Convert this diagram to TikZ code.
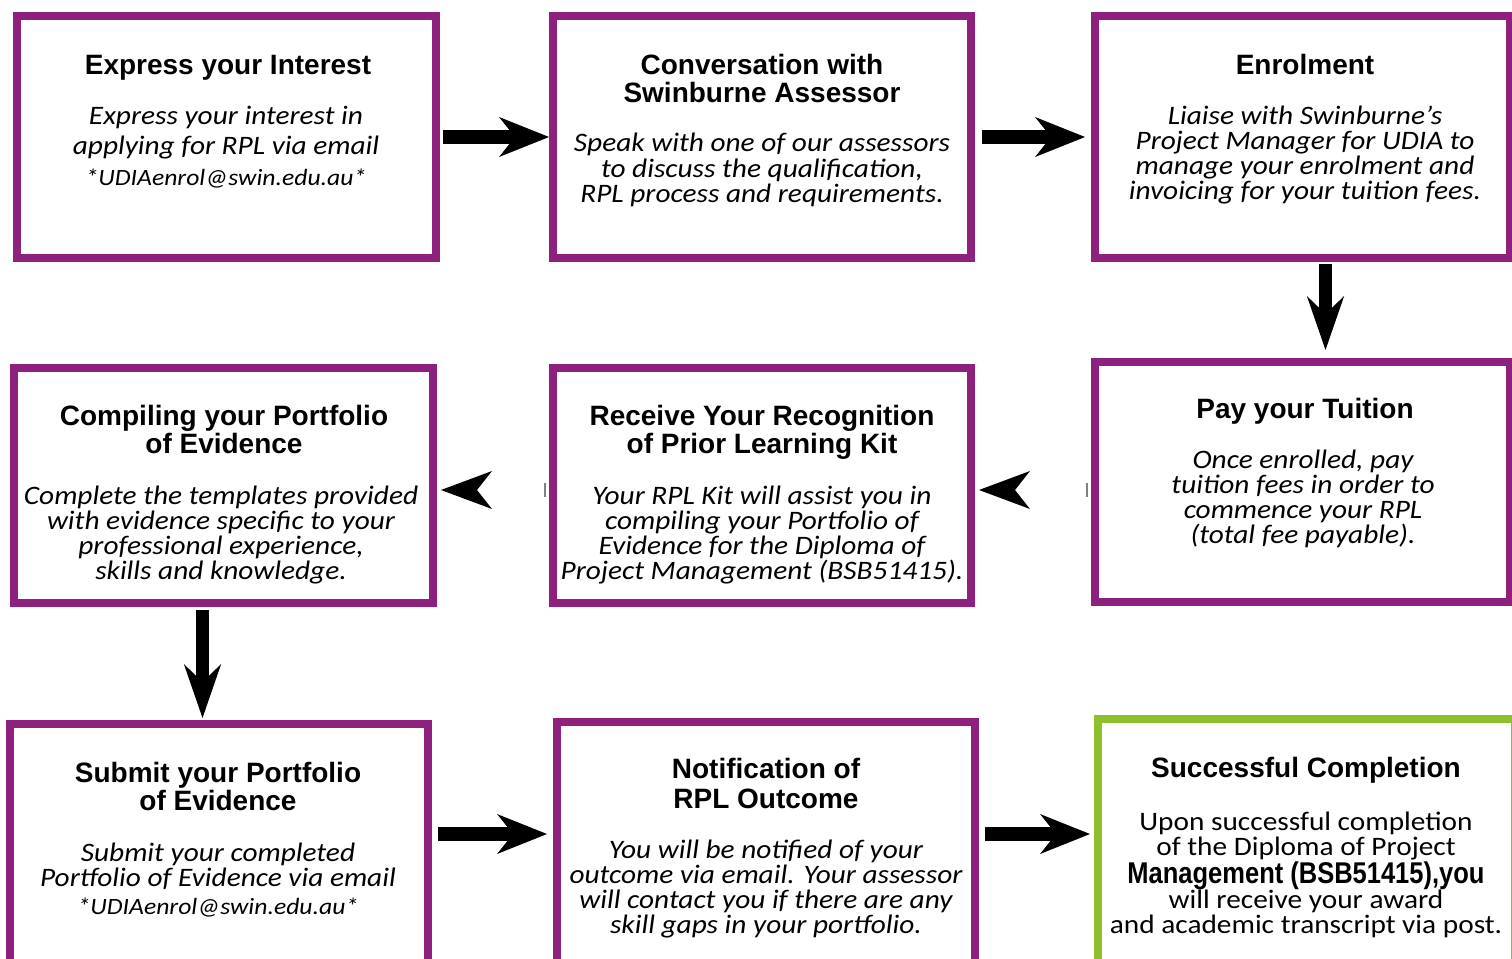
\documentclass[tikz,border=0pt]{standalone}
\usepackage{fontspec}
\setmainfont{Carlito}
\newfontfamily\bodyfont{Carlito}[FakeStretch=1.1]
\newfontfamily\titlefont{Liberation Sans}
\usetikzlibrary{arrows.meta}
\definecolor{boxpurple}{RGB}{142,32,126}
\definecolor{boxgreen}{RGB}{141,192,42}
\begin{document}
\begin{tikzpicture}[x=0.75pt,y=-0.75pt,
  stepbox/.style={draw=boxpurple,line width=6pt,inner sep=0pt},
  donebox/.style={draw=boxgreen,line width=6pt,inner sep=0pt},
  boxdim/.style 2 args={minimum width=#1*0.75pt,minimum height=#2*0.75pt},
  ttl/.style={font=\titlefont\bfseries\fontsize{21}{21}\selectfont,align=center,inner sep=0pt},
  bdy/.style={font=\bodyfont\itshape\fontsize{20}{18.9}\selectfont,align=center,inner sep=0pt},
  rarrow/.style={line width=10.5pt,-{Stealth[length=37.5pt,width=30pt,inset=12pt,line width=0pt]}},
  darrow/.style={line width=9.75pt,-{Stealth[length=40.5pt,width=28pt,inset=13.5pt,line width=0pt]}},
  larrowhead/.style={fill=black},
  tick/.style={draw=gray,line width=1pt}
]
\useasboundingbox (0,0) rectangle (1512,959);
\fill[white] (0,0) rectangle (1512,959);

% boxes
\node[stepbox,boxdim={419}{242}] (b1) at (226.5,137) {};
\node[stepbox,boxdim={418}{242}] (b2) at (762,137) {};
\node[stepbox,boxdim={415}{242}] (b3) at (1302.5,137) {};
\node[stepbox,boxdim={419}{235}] (b4) at (223.5,485.5) {};
\node[stepbox,boxdim={418}{235}] (b5) at (762,485.5) {};
\node[stepbox,boxdim={415}{240}] (b6) at (1302.5,482) {};
\node[stepbox,boxdim={418}{246}] (b7) at (219,847) {};
\node[stepbox,boxdim={418}{248}] (b8) at (766,846) {};
\node[donebox,boxdim={417}{251}] (b9) at (1306.5,844.5) {};

% texts
\node[ttl] (t1) at (228,68) {Express your Interest};
\node[bdy,font=\bodyfont\itshape\fontsize{20}{23}\selectfont] (d1) at (226,147) {Express your interest in\\ applying for RPL via email\\ {\fontsize{17.5}{17}\selectfont *UDIAenrol@swin.edu.au*}};

\node[ttl] (t2) at (762,78) {Conversation with\\ Swinburne Assessor};
\node[bdy] (d2) at (762,170) {Speak with one of our assessors\\ to discuss the qualification,\\ RPL process and requirements.};

\node[ttl] (t3) at (1305,64) {Enrolment};
\node[bdy] (d3) at (1305,155) {Liaise with Swinburne’s\\ Project Manager for UDIA to\\ manage your enrolment and\\ invoicing for your tuition fees.};

\node[ttl] (t6) at (1305,411) {Pay your Tuition};
\node[bdy] (d6) at (1303,499) {Once enrolled, pay\\ tuition fees in order to\\ commence your RPL\\ (total fee payable).};

\node[ttl] (t5) at (762,432) {Receive Your Recognition\\ of Prior Learning Kit};
\node[bdy] (d5) at (762,535) {Your RPL Kit will assist you in\\ compiling your Portfolio of\\ Evidence for the Diploma of\\ Project Management (BSB51415).};

\node[ttl] (t4) at (224,429) {Compiling your Portfolio\\ of Evidence};
\node[bdy] (d4) at (221,535) {Complete the templates provided\\ with evidence specific to your\\ professional experience,\\ skills and knowledge.};

\node[ttl] (t7) at (218,786) {Submit your Portfolio\\ of Evidence};
\node[bdy] (d7) at (218,880) {Submit your completed\\ Portfolio of Evidence via email\\[2pt] {\fontsize{17.5}{17}\selectfont *UDIAenrol@swin.edu.au*}};

\node[ttl,font=\titlefont\bfseries\fontsize{21}{22.5}\selectfont] (t8) at (766,783) {Notification of\\ RPL Outcome};
\node[bdy] (d8) at (766,889) {You will be notified of your\\ outcome via email. Your assessor\\ will contact you if there are any\\ skill gaps in your portfolio.};

\node[ttl] (t9) at (1306,770) {Successful Completion};
\node[bdy,font=\bodyfont\upshape\fontsize{20}{18.9}\selectfont] (d9) at (1306,875) {Upon successful completion\\ of the Diploma of Project\\ \scalebox{0.85}[1]{\titlefont\bfseries\fontsize{22.5}{18.9}\selectfont Management (BSB51415),you}\\ will receive your award\\ and academic transcript via post.};

% connector columns / rows
\coordinate (c1) at (1325.5,0);
\coordinate (c2) at (202.5,0);
\coordinate (r3) at (0,834);

% arrows
\draw[rarrow,shorten <=2.25pt] (b1.east) -- (b2.west);
\draw[rarrow,shorten <=5.25pt,shorten >=4.5pt] (b2.east) -- (b3.west);
\draw[darrow,shorten <=1.5pt,shorten >=6pt] (b3.south -| c1) -- (b6.north -| c1);
\draw[darrow,shorten <=2.25pt,shorten >=1.5pt] (b4.south -| c2) -- (b7.north -| c2);
\draw[rarrow,shorten <=4.5pt,shorten >=4.5pt] (b7.east |- r3) -- (b8.west |- r3);
\draw[rarrow,shorten <=4.5pt,shorten >=3pt] (b8.east |- r3) -- (b9.west |- r3);

% left-pointing arrow heads (b5 -> b4, b6 -> b5)
\fill[larrowhead] ([xshift=3pt,yshift=-3.375pt]b4.east) -- ++(51,-19) -- ++(-15,19) -- ++(15,19) -- cycle;
\fill[larrowhead] ([xshift=3pt,yshift=-3.375pt]b5.east) -- ++(51,-19) -- ++(-15,19) -- ++(15,19) -- cycle;
\draw[tick] ([xshift=-3pt,yshift=1.875pt]b5.west) -- ++(0,14);
\draw[tick] ([xshift=-3pt,yshift=-0.75pt]b6.west) -- ++(0,14);
\end{tikzpicture}
\end{document}
